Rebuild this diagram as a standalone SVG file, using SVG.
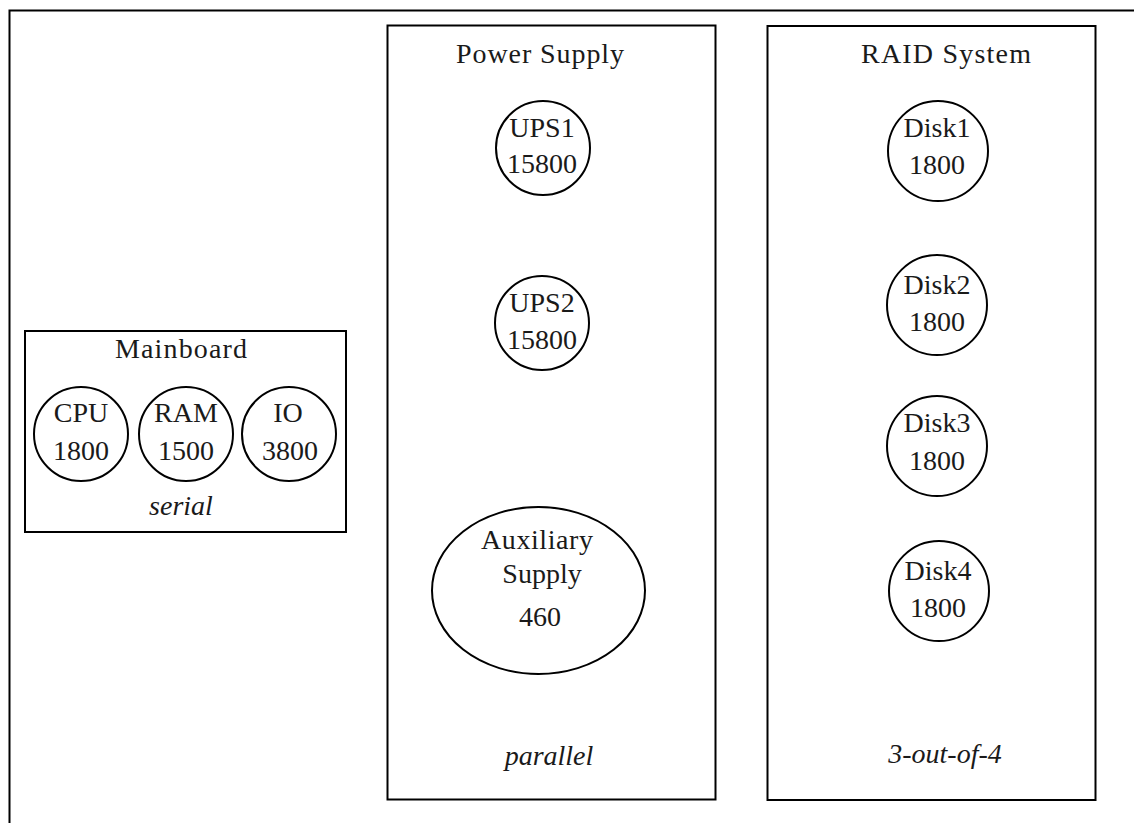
<svg xmlns="http://www.w3.org/2000/svg" width="1134" height="823" viewBox="0 0 1134 823">
<style>
.box{fill:none;stroke:#000;stroke-width:2}
.nd{fill:none;stroke:#000;stroke-width:2}
text{font-family:"Liberation Serif","Times New Roman",serif;font-size:28px;fill:#1a1a1a;text-anchor:middle}
.it{font-style:italic}
</style>
<rect width="1134" height="823" fill="#fff"/>
<g id="frame"><rect class="box" x="9.5" y="10.5" width="1140" height="830"/></g>
<g id="mainboard">
<rect class="box" x="25" y="331" width="321" height="201"/>
<text x="181" y="358" textLength="132">Mainboard</text>
<text class="it" x="181" y="515">serial</text>
</g>
<g id="cpu"><circle class="nd" cx="81" cy="434" r="47"/><text x="81" y="422">CPU</text><text x="81" y="460">1800</text></g>
<g id="ram"><circle class="nd" cx="186" cy="434" r="47"/><text x="186" y="422">RAM</text><text x="186" y="460">1500</text></g>
<g id="io"><circle class="nd" cx="289" cy="434" r="47"/><text x="288" y="422">IO</text><text x="290" y="460">3800</text></g>
<g id="power">
<rect class="box" x="387.5" y="25.5" width="328" height="774"/>
<text x="540" y="63" textLength="168">Power Supply</text>
<text class="it" x="549" y="765">parallel</text>
</g>
<g id="ups1"><circle class="nd" cx="543" cy="148" r="47"/><text x="542" y="137">UPS1</text><text x="542" y="173">15800</text></g>
<g id="ups2"><circle class="nd" cx="542" cy="323" r="47"/><text x="542" y="312">UPS2</text><text x="542" y="349">15800</text></g>
<g id="aux"><ellipse class="nd" cx="538.5" cy="590.5" rx="106.5" ry="83.5"/><text x="537" y="549" textLength="112">Auxiliary</text><text x="542" y="583">Supply</text><text x="540" y="626">460</text></g>
<g id="raid">
<rect class="box" x="767.5" y="26" width="328" height="774"/>
<text x="946" y="63" textLength="170">RAID System</text>
<text class="it" x="945" y="763">3-out-of-4</text>
</g>
<g id="disk1"><circle class="nd" cx="938" cy="151" r="50"/><text x="937" y="137">Disk1</text><text x="937" y="174">1800</text></g>
<g id="disk2"><circle class="nd" cx="937" cy="305" r="50"/><text x="937" y="294">Disk2</text><text x="937" y="331">1800</text></g>
<g id="disk3"><circle class="nd" cx="937" cy="446" r="50"/><text x="937" y="432">Disk3</text><text x="937" y="470">1800</text></g>
<g id="disk4"><circle class="nd" cx="939" cy="591" r="50"/><text x="938" y="580">Disk4</text><text x="938" y="617">1800</text></g>
<g id="connectors"></g>
</svg>
